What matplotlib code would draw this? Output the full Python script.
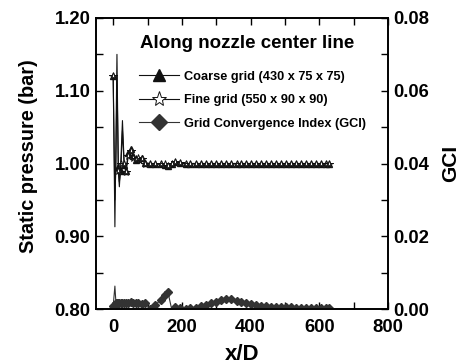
import matplotlib
matplotlib.use("Agg")
import matplotlib.pyplot as plt
from matplotlib.ticker import MultipleLocator
from matplotlib.lines import Line2D

plt.rcParams['font.family'] = ['Liberation Sans', 'DejaVu Sans']
plt.rcParams['font.weight'] = 'bold'

x = [0, 5, 8, 11, 15, 18, 22, 27, 32, 37, 44, 51, 59, 66, 73, 83, 93, 107, 122, 138,
     150, 159, 170, 180, 195, 212, 225, 240, 255, 270, 284, 299, 313, 328, 344, 359,
     373, 388, 402, 417, 431, 446, 460, 475, 489, 504, 518, 533, 547, 561, 576, 591,
     605, 620, 629]

p_fine = [1.12, 0.913, 1.03, 1.15, 0.99, 0.968, 1.0, 1.059, 1.0, 0.988, 1.01, 1.017,
          1.008, 1.006, 1.007, 1.006, 1.0, 1.0, 1.0, 0.999, 0.999, 0.997, 1.0, 1.002,
          1.001, 1.0, 1.0, 1.0, 1.0, 1.0, 1.0, 1.0, 1.0, 1.0, 1.0, 1.0, 1.0, 1.0, 1.0,
          1.0, 1.0, 1.0, 1.0, 1.0, 1.0, 1.0, 1.0, 1.0, 1.0, 1.0, 1.0, 1.0, 1.0, 1.0, 1.0]

p_coarse = [1.12, 0.95, 1.0, 1.12, 0.995, 0.975, 0.99, 1.045, 0.998, 0.99, 1.015, 1.02,
            1.01, 1.005, 1.006, 1.007, 1.001, 1.0, 1.0, 0.999, 0.998, 0.996, 1.0, 1.002,
            1.001, 1.0, 1.0, 1.0, 1.0, 1.0, 1.0, 1.0, 1.0, 1.0, 1.0, 1.0, 1.0, 1.0, 1.0,
            1.0, 1.0, 1.0, 1.0, 1.0, 1.0, 1.0, 1.0, 1.0, 1.0, 1.0, 1.0, 1.0, 1.0, 1.0, 1.0]

gci = [0.0008, 0.0063, 0.0017, 0.0017, 0.0017, 0.0016, 0.0017, 0.0017, 0.0017, 0.0016,
       0.0017, 0.0018, 0.0017, 0.0016, 0.0017, 0.0015, 0.0016, 0.0001, 0.001, 0.0025,
       0.0038, 0.0048, 0.0001, 0.0005, 0.0003, 0.0001, 0.0002, 0.0004, 0.0008, 0.0012,
       0.0016, 0.002, 0.0024, 0.0027, 0.0027, 0.0022, 0.0018, 0.0016, 0.0013, 0.001,
       0.0008, 0.0007, 0.0006, 0.0006, 0.0005, 0.0005, 0.0005, 0.0004, 0.0004, 0.0004,
       0.0004, 0.0003, 0.0003, 0.0003, 0.0003]

x_ticks = [0, 200, 400, 600, 800]
p_ticks = [0.80, 0.90, 1.00, 1.10, 1.20]
g_ticks = [0.00, 0.02, 0.04, 0.06, 0.08]
labels = ['Coarse grid (430 x 75 x 75)', 'Fine grid (550 x 90 x 90)',
          'Grid Convergence Index (GCI)']

n = len(x)
mk_p = [i for i in range(n) if i not in (1, 2, 3, 5, 7)]
mk_g = [i for i in range(n) if i not in (1, 22)]

fig = plt.figure(figsize=(4.63, 3.64), dpi=100)
ax = fig.add_axes([96/463, 1-309/364, (388-96)/463, (309-18)/364])
ax2 = ax.twinx()

ax.plot(x, p_coarse, color='#111111', lw=0.8, marker='^', ms=4.5, mfc='#111111',
        mec='#111111', markevery=mk_p)
ax.plot(x, p_fine, color='#111111', lw=0.8, marker='*', ms=5.5, mfc='white',
        mec='#111111', mew=0.7, markevery=mk_p)
ax2.plot(x, gci, color='#333333', lw=0.8, marker='D', ms=3.8, mfc='#333333',
         mec='#333333', markevery=mk_g)

ax.set_xlim(-50, 800)
ax.set_ylim(0.80, 1.20)
ax2.set_ylim(0.0, 0.08)

ax.set_xticks(x_ticks)
ax.set_xticklabels([str(v) for v in x_ticks])
ax.xaxis.set_minor_locator(MultipleLocator(100))
ax.set_yticks(p_ticks)
ax.set_yticklabels(['%.2f' % v for v in p_ticks])
ax.yaxis.set_minor_locator(MultipleLocator(0.05))
ax2.set_yticks(g_ticks)
ax2.set_yticklabels(['%.2f' % v for v in g_ticks])
ax2.yaxis.set_minor_locator(MultipleLocator(0.01))

for a in (ax, ax2):
    for s in a.spines.values():
        s.set_linewidth(1.2)
ax.tick_params(axis='both', which='both', direction='in', width=1.0, length=5,
               labelsize=13.3, pad=4)
ax.tick_params(axis='x', which='both', top=True, labeltop=False, pad=7)
ax.tick_params(axis='y', which='both', right=False)
ax2.tick_params(axis='y', which='both', direction='in', width=1.0, length=5,
                labelsize=13.3, pad=4)

ax.set_xlabel('x/D', fontsize=16, fontweight='bold', labelpad=6)
ax.set_ylabel('Static pressure (bar)', fontsize=14.3, fontweight='bold', labelpad=12)
ax.yaxis.label.set_y(0.524)
ax2.set_ylabel('GCI', fontsize=15, fontweight='bold', labelpad=8)

ax.text(0.519, 0.912, 'Along nozzle center line', transform=ax.transAxes,
        ha='center', va='center', fontsize=13.5, fontweight='bold')

handles = [
    Line2D([], [], color='#111111', lw=0.8, marker='^', ms=9, mfc='#111111', mec='#111111'),
    Line2D([], [], color='#111111', lw=0.8, marker='*', ms=11, mfc='white', mec='#111111', mew=0.7),
    Line2D([], [], color='#333333', lw=0.8, marker='D', ms=8, mfc='#333333', mec='#333333'),
]
ax.legend(handles, labels, loc='upper left', bbox_to_anchor=(0.147, 0.818), frameon=False,
          prop={'size': 9.2, 'weight': 'bold'}, handlelength=3.1, handletextpad=0.45,
          labelspacing=0.9, borderaxespad=0, borderpad=0)

fig.savefig('out.png', dpi=100)
